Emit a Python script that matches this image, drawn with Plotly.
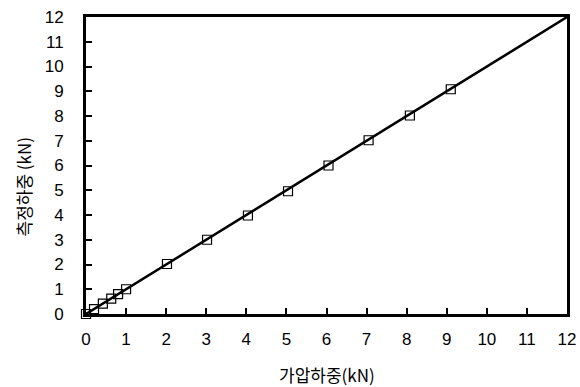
import plotly.graph_objects as go

# Applied load vs measured load (kN)
applied = [0.0, 0.2, 0.42, 0.63, 0.8, 1.0, 2.02, 3.02, 4.04, 5.04, 6.05, 7.05, 8.08, 9.1]
measured = [0.0, 0.2, 0.42, 0.62, 0.8, 1.0, 2.02, 3.0, 3.98, 4.96, 6.0, 7.02, 8.02, 9.08]

# Fitted line y = x across the axis range
fit_x = [0, 12]
fit_y = [0, 12]

tick_vals = list(range(0, 13))

fig = go.Figure()
fig.add_trace(go.Scatter(
    x=fit_x, y=fit_y, mode="lines",
    line=dict(color="black", width=2.5),
    showlegend=False,
))
fig.add_trace(go.Scatter(
    x=applied, y=measured, mode="markers",
    marker=dict(symbol="square-open", size=9, color="black", line=dict(width=1.2)),
    showlegend=False, cliponaxis=False,
))

axis_common = dict(
    range=[0, 12], tickvals=tick_vals, ticks="inside", ticklen=6, tickwidth=2,
    tickcolor="black", showline=True, linecolor="black", linewidth=3, mirror=True,
    showgrid=False, zeroline=False, automargin=False,
    tickfont=dict(family="Liberation Sans, Arial", size=17, color="black"),
)

title_font = dict(family="Noto Sans CJK KR", size=17, color="black")

fig.update_layout(
    width=580, height=387,
    margin=dict(l=86, r=13, t=17, b=73),
    paper_bgcolor="white", plot_bgcolor="white",
    xaxis=dict(**axis_common, ticklabelstandoff=8),
    yaxis=dict(**axis_common, ticklabelstandoff=16),
    annotations=[
        dict(text="가압하중(kN)", xref="paper", yref="paper", x=0.5, y=0,
             xanchor="center", yanchor="middle", yshift=-60, xshift=0,
             showarrow=False, font=title_font),
        dict(text="측정하중 (kN)", xref="paper", yref="paper", x=0, y=0.5,
             xanchor="center", yanchor="middle", xshift=-63, yshift=-21,
             textangle=-90, showarrow=False, font=title_font),
    ],
)

fig.write_html("out.html")
